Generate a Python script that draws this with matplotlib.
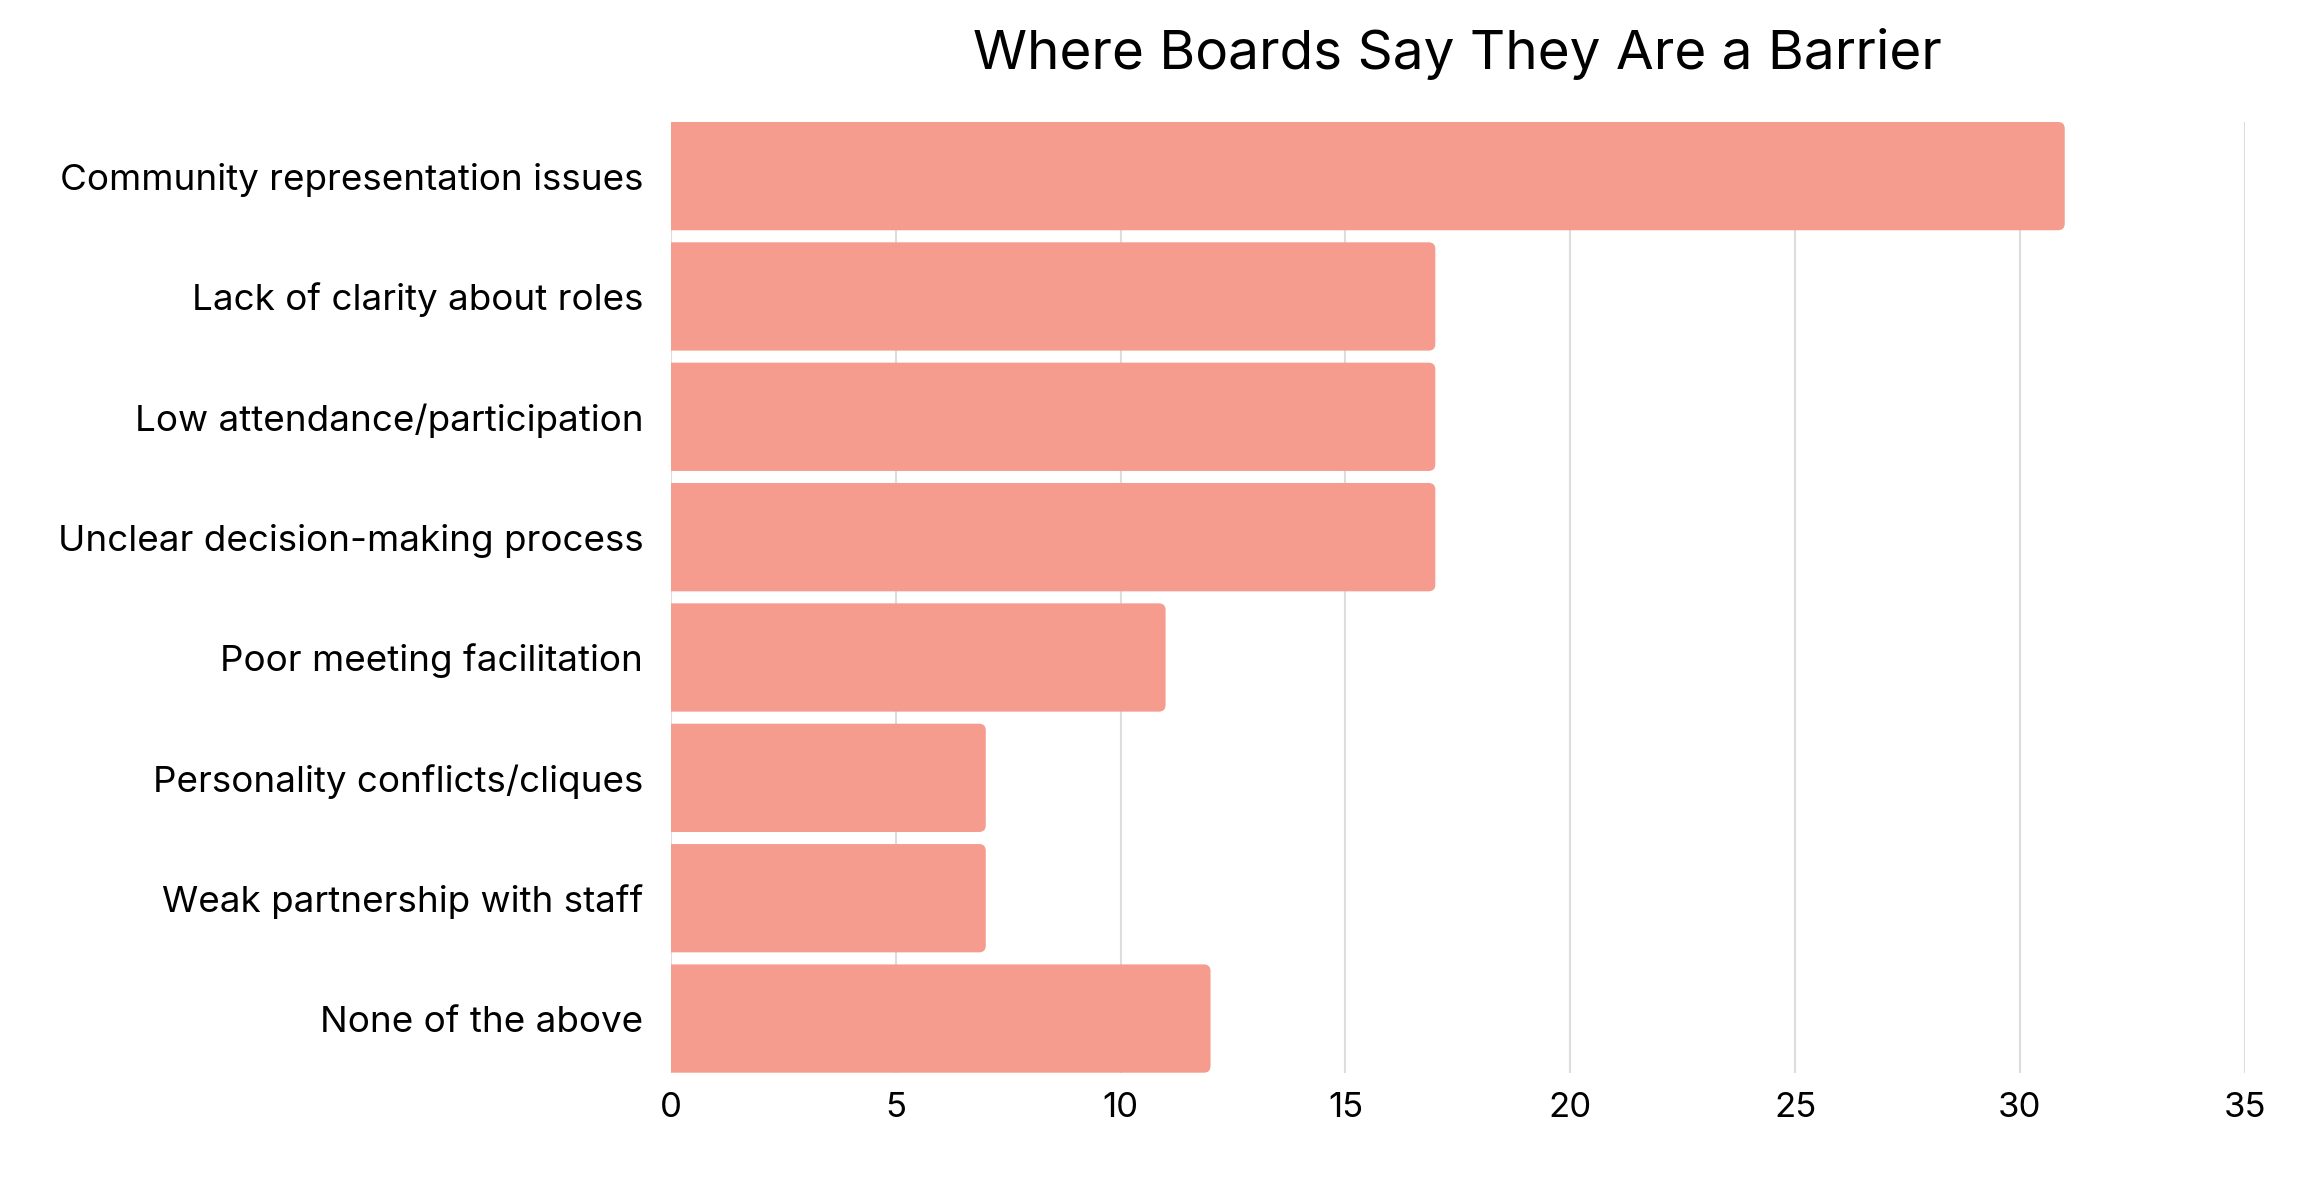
import matplotlib.pyplot as plt
from matplotlib.patches import FancyBboxPatch

categorias = [
    "Community representation issues",
    "Lack of clarity about roles",
    "Low attendance/participation",
    "Unclear decision-making process",
    "Poor meeting facilitation",
    "Personality conflicts/cliques",
    "Weak partnership with staff",
    "None of the above",
]
valores = [31, 17, 17, 17, 11, 7, 7, 12]
ticks_x = [0, 5, 10, 15, 20, 25, 30, 35]

plt.rcParams['font.family'] = ['Inter', 'DejaVu Sans']

fig = plt.figure(figsize=(23.14, 11.84), dpi=100)
ax = fig.add_axes([0.290, 0.094, 0.680, 0.803])

y = range(len(categorias))
barras = ax.barh(y, valores, height=0.9, color='#F69C8E', zorder=3)

# esquinas redondeadas a la derecha (la izquierda queda recortada por el eje)
for r in barras.patches:
    x0, y0 = r.get_x(), r.get_y()
    w, h = r.get_width(), r.get_height()
    caja = FancyBboxPatch((x0 - 1, y0), w + 1, h,
                          boxstyle='round,pad=0,rounding_size=0.15',
                          mutation_aspect=0.37, facecolor='#F69C8E',
                          edgecolor='none', zorder=3)
    ax.add_patch(caja)
    r.set_visible(False)

ax.set_xlim(0, 35)
ax.set_ylim(len(categorias) - 0.55, -0.45)
ax.set_xticks(ticks_x)
ax.set_yticks(list(y))
ax.set_yticklabels(categorias, fontsize=26.5, va='center_baseline')
ax.tick_params(axis='x', labelsize=25, length=0, pad=14)
ax.tick_params(axis='y', length=0, pad=20)
ax.grid(axis='x', color='#dddddd', linewidth=1.5, zorder=0)
for s in ax.spines.values():
    s.set_visible(False)

fig.suptitle('Where Boards Say They Are a Barrier', fontsize=39.5, x=0.63, y=0.954, va='center')

plt.savefig('out.png', dpi=100)
